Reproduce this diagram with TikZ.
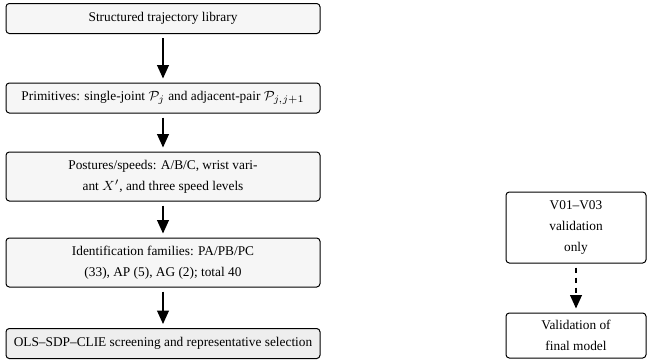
\documentclass[tikz,border=0pt]{standalone}
\usepackage{amsmath, amssymb}
\usepackage{fontspec}
\setmainfont{Liberation Serif}
\usetikzlibrary{arrows.meta, positioning}
\tikzset{
  box/.style = {rectangle, draw=black, rounded corners=2pt, fill=gray!7, minimum width=188.4pt, minimum height=18pt, align=center, font=\fontsize{8}{12.4}\selectfont, inner sep=2pt, line width=0.6pt},
  sidebox/.style = {box, fill=white, minimum width=84pt},
  arr/.style = {-{Triangle[length=8pt,width=7pt]}, line width=0.9pt, shorten <=2.4pt, shorten >=2.4pt}
}

\begin{document}
\begin{tikzpicture}[x=0.6pt, y=-0.6pt]
\useasboundingbox (0,0) rectangle (647,360);

% Main column (top -> bottom)
\node[box] (lib) at (163,18.5) {Structured trajectory library};
\node[box] (prim) at (163,98) {Primitives: single-joint $\mathcal{P}_j$ and adjacent-pair $\mathcal{P}_{j,j+1}$};
\node[box, minimum height=29.4pt] (post) at (163,176.5) {Postures/speeds: A/B/C, wrist vari-\\ant $X'$, and three speed levels};
\node[box, minimum height=29.4pt] (fam) at (163,262.5) {Identification families: PA/PB/PC\\(33), AP (5), AG (2); total 40};
\node[box, fill=gray!13] (ols) at (163,343.5) {OLS--SDP--CLIE screening and representative selection};

% Side column
\node[sidebox, minimum height=42.6pt] (vset) at (576,227.5) {V01--V03\\validation\\only};
\node[sidebox, minimum height=27pt] (vfin) at (576,335.5) {Validation of\\final model};

% ----- ARROWS -----
\draw[arr] (lib.south) -- (prim.north);
\draw[arr] (prim.south) -- (post.north);
\draw[arr] (post.south) -- (fam.north);
\draw[arr] (fam.south) -- (ols.north);

% Validation branch
\draw[arr, dashed] (vset.south) -- (vfin.north);

\end{tikzpicture}
\end{document}
